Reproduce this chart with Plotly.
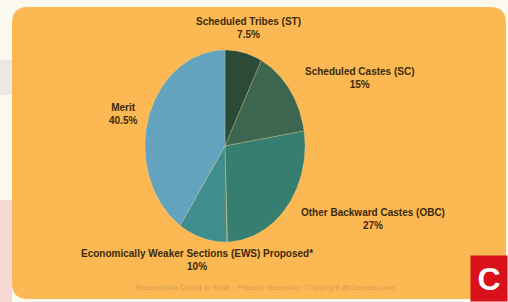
import numpy as np
import plotly.graph_objects as go

# ---- data ----
categories = ["Scheduled Tribes (ST)", "Scheduled Castes (SC)", "Other Backward Castes (OBC)",
              "Economically Weaker Sections (EWS) Proposed*", "Merit"]
shares = [7.5, 15, 27, 10, 40.5]
share_labels = ["7.5%", "15%", "27%", "10%", "40.5%"]
slice_colors = ["#2b4b36", "#3c6650", "#367f70", "#3f8d8f", "#63a3bd"]
label_radius = [1.26, 1.2, 1.2, 1.24, 1.12]

W, H = 508, 302
CX, CY, RX, RY = 225, 146, 80, 96  # pie centre / radii in pixels

fig = go.Figure()

total = sum(shares)
cum = np.concatenate([[0], np.cumsum(shares)]) / total
ann = []
for i, (cat, val) in enumerate(zip(categories, shares)):
    a0, a1 = cum[i] * 2 * np.pi, cum[i + 1] * 2 * np.pi
    t = np.linspace(a0, a1, 80)
    xs = np.concatenate([[0], np.sin(t), [0]])
    ys = np.concatenate([[0], np.cos(t), [0]])
    fig.add_trace(go.Scatter(x=xs, y=ys, fill="toself", mode="lines",
                             fillcolor=slice_colors[i],
                             line=dict(color="rgba(255,230,170,0.3)", width=0.8),
                             hoverinfo="skip", showlegend=False))
    am = (a0 + a1) / 2
    s, c = np.sin(am), np.cos(am)
    r = label_radius[i]
    if abs(s) < 0.4:
        xa = "center"
    elif s > 0:
        xa = "left"
    else:
        xa = "right"
    ann.append(dict(x=r * s, y=r * c, xref="x", yref="y", xanchor=xa, yanchor="middle",
                    text=f"{cat}<br>{share_labels[i]}", showarrow=False, align="center",
                    font=dict(family="Liberation Sans Narrow, Arial Narrow, Liberation Sans, sans-serif",
                              size=10, color="#3b2a0e", weight="bold")))

# footer and logo
ann.append(dict(x=265 / W, y=1 - 294 / H, xref="paper", yref="paper", showarrow=False,
                text="Reservation Quota in India · Present Scenario · Copyright @clearias.com",
                font=dict(family="Liberation Sans, sans-serif", size=8,
                          color="rgba(205,150,80,0.85)")))
ann.append(dict(x=1, y=0, xref="paper", yref="paper", xanchor="right", yanchor="bottom",
                showarrow=False, width=34, height=43, bgcolor="#d8111b", borderpad=1,
                text="<b>C</b>", valign="middle",
                font=dict(family="Liberation Sans, sans-serif", size=32, color="white")))

def px(x):
    return x / W

def py(y):
    return 1 - y / H

L, T, R, B, rad = 12, 7, 506, 299, 16
path = (f"M {px(L+rad)},{py(T)} L {px(R-rad)},{py(T)} Q {px(R)},{py(T)} {px(R)},{py(T+rad)} "
        f"L {px(R)},{py(B-rad)} Q {px(R)},{py(B)} {px(R-rad)},{py(B)} "
        f"L {px(L+rad)},{py(B)} Q {px(L)},{py(B)} {px(L)},{py(B-rad)} "
        f"L {px(L)},{py(T+rad)} Q {px(L)},{py(T)} {px(L+rad)},{py(T)} Z")

shapes = [
    dict(type="rect", xref="paper", yref="paper", x0=0, x1=px(12), y0=py(302), y1=py(200),
         fillcolor="rgba(240,190,190,0.55)", line=dict(width=0), layer="below"),
    dict(type="rect", xref="paper", yref="paper", x0=0, x1=px(12), y0=py(95), y1=py(60),
         fillcolor="rgba(200,200,200,0.3)", line=dict(width=0), layer="below"),
    dict(type="path", path=path, xref="paper", yref="paper", fillcolor="#fcb852",
         line=dict(width=0), layer="below"),
]

fig.update_layout(
    width=W, height=H, margin=dict(l=0, r=0, t=0, b=0),
    paper_bgcolor="#fbf8ee", plot_bgcolor="rgba(0,0,0,0)",
    xaxis=dict(range=[-CX / RX, (W - CX) / RX], visible=False, fixedrange=True),
    yaxis=dict(range=[-(H - CY) / RY, CY / RY], visible=False, fixedrange=True),
    showlegend=False, hovermode=False,
    annotations=ann, shapes=shapes,
)

fig.write_html("out.html", config={"displayModeBar": False},
               post_script="document.body.style.margin='0';document.body.style.overflow='hidden';")
